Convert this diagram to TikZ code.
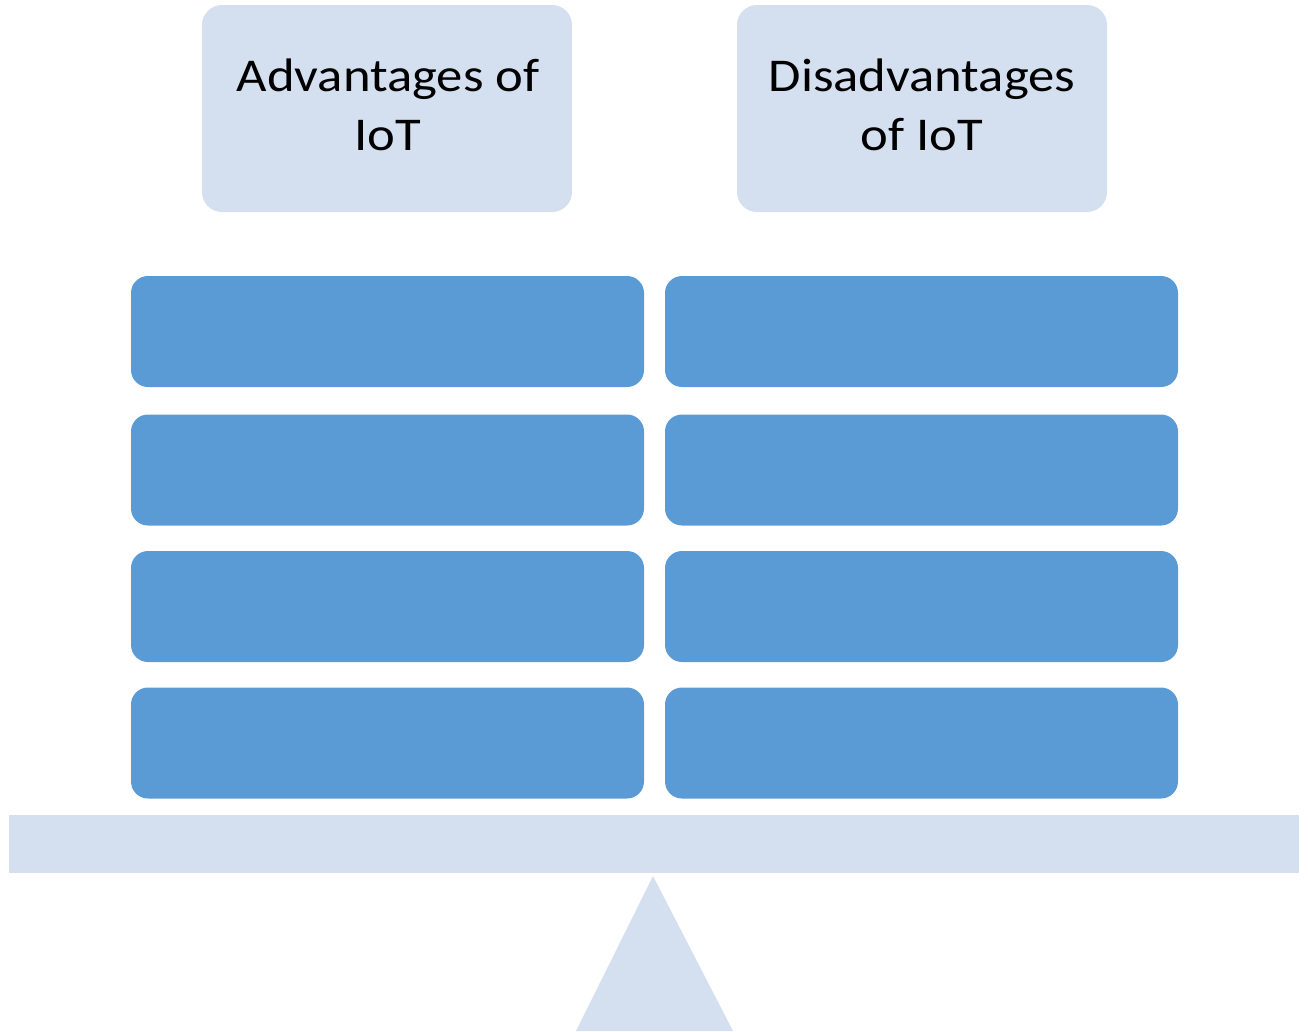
\documentclass[tikz,border=0pt]{standalone}
\usepackage{fontspec}
\setmainfont{Carlito}
\newfontfamily\headfont[FakeStretch=1.12]{Carlito}
\definecolor{lightbox}{HTML}{D4DFEF}
\definecolor{bluebox}{HTML}{5B9BD5}
\begin{document}
\begin{tikzpicture}[x=1pt,y=-1pt,
  headbox/.style={fill=lightbox, draw=none, rounded corners=20pt, minimum width=370pt, minimum height=207pt, inner sep=0pt, align=center, font=\headfont\fontsize{47}{59}\selectfont},
  itembox/.style={fill=bluebox, draw=none, rounded corners=17pt, minimum width=513pt, minimum height=111pt, inner sep=0pt}]
\useasboundingbox (0,0) rectangle (1308,1031);
\node[headbox] (adv) at (387,108.5) {};
\node[headbox] (dis) at (922,108.5) {};
\node[align=center, font=\headfont\fontsize{47}{59}\selectfont, inner sep=0pt] (advt) at (388,105) {Advantages of\\IoT};
\node[align=center, font=\headfont\fontsize{47}{59}\selectfont, inner sep=0pt] (dist) at (922,105) {Disadvantages\\of IoT};
\foreach \i/\y in {1/331.5,2/470,3/606.5,4/743}{
  \node[itembox] (a\i) at (387.5,\y) {};
  \node[itembox] (d\i) at (921.5,\y) {};
}
\node[fill=lightbox, draw=none, minimum width=1290pt, minimum height=58pt, inner sep=0pt] (bar) at (654,844) {};
\fill[lightbox] (653,876) -- (733,1031) -- (576,1031) -- cycle;
\end{tikzpicture}
\end{document}
